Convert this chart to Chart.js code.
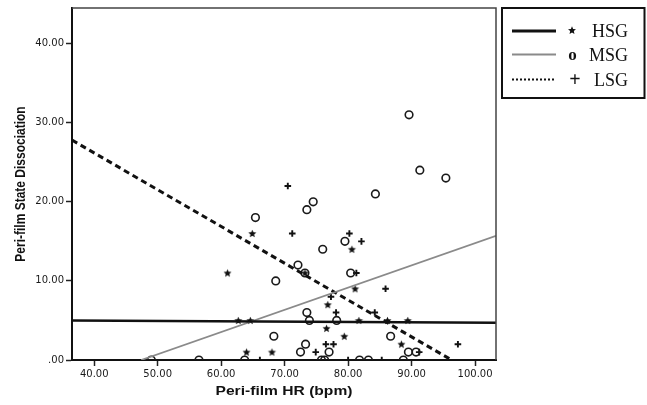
<!DOCTYPE html>
<html>
<head>
<meta charset="utf-8">
<script src="https://cdn.jsdelivr.net/npm/chart.js@4/dist/chart.umd.min.js"></script>
<style>
  html, body { margin: 0; padding: 0; background: #fff; }
  #wrap { width: 647px; height: 405px; position: relative; }
</style>
</head>
<body>
<div id="wrap"><canvas id="plot"></canvas></div>
<script>
// axis ranges and ticks
const xMin = 36.5, xMax = 103.3;
const yMin = 0, yMax = 44.5;
const xTicks = [40, 50, 60, 70, 80, 90, 100];
const yTicks = [0, 10, 20, 30, 40];

// HSG subjects: peri-film HR vs. state dissociation
const hsgX = [61.0, 64.9, 62.7, 64.6, 64.0, 68.0, 73.2, 76.8, 76.6, 79.4, 80.6, 81.1, 81.7, 86.2, 89.4, 88.4];
const hsgY = [11, 16, 5, 5, 1, 1, 11, 7, 4, 3, 14, 9, 5, 5, 5, 2];

// MSG subjects
const msgX = [49.0, 56.5, 63.7, 75.8, 76.3, 81.8, 83.2, 88.7, 65.4, 73.5, 74.5, 76.0, 79.5, 72.1, 73.2, 68.6,
              80.4, 73.5, 73.9, 78.2, 68.3, 73.3, 72.5, 77.0, 86.7, 89.5, 90.7, 89.6, 91.3, 95.4, 84.3];
const msgY = [0, 0, 0, 0, 0, 0, 0, 0, 18, 19, 20, 14, 15, 12, 11, 10,
              11, 6, 5, 5, 3, 2, 1, 1, 3, 1, 1, 31, 24, 23, 21];

// LSG subjects
const lsgX = [70.5, 71.2, 80.2, 82.1, 81.3, 85.9, 77.3, 78.1, 84.2, 76.5, 77.7, 97.3, 74.9, 91.2, 66.1, 80.0, 85.3];
const lsgY = [22, 16, 16, 15, 11, 9, 8, 6, 6, 2, 2, 2, 1, 1, 0, 0, 0];

// linear fit lines (end points)
const hsgFitX = [36.5, 103.3], hsgFitY = [5.0, 4.7];
const msgFitX = [47.4, 103.3], msgFitY = [0, 15.7];
const lsgFitX = [36.5, 96.3], lsgFitY = [27.8, 0];

const groupNames = ['HSG', 'MSG', 'LSG'];

function pts(xs, ys) {
    return xs.map((x, i) => ({ x: x, y: ys[i] }));
}

function drawStar(ctx, cx, cy, r) {
    ctx.beginPath();
    for (let i = 0; i < 10; i++) {
        const rr = i % 2 ? r * 0.45 : r;
        const a = -Math.PI / 2 + i * Math.PI / 5;
        ctx.lineTo(cx + rr * Math.cos(a), cy + rr * Math.sin(a));
    }
    ctx.closePath();
    ctx.fill();
}

// small filled five point star used as a point style
function starMark(r) {
    const s = Math.ceil(r * 2) + 2;
    const c = document.createElement('canvas');
    c.width = s; c.height = s;
    const g = c.getContext('2d');
    g.fillStyle = '#111';
    drawStar(g, s / 2, s / 2 + 0.4, r);
    return c;
}

// frame, axis titles and the boxed legend
const extras = {
    id: 'extras',
    afterDraw(chart) {
        const ctx = chart.ctx;
        const a = chart.chartArea;
        ctx.save();

        // top and right side of the plot frame
        ctx.strokeStyle = '#444';
        ctx.lineWidth = 1.5;
        ctx.beginPath();
        ctx.moveTo(a.left, a.top);
        ctx.lineTo(a.right, a.top);
        ctx.lineTo(a.right, a.bottom);
        ctx.stroke();

        // axis titles
        ctx.fillStyle = '#111';
        ctx.textAlign = 'center';
        ctx.textBaseline = 'alphabetic';
        ctx.save();
        ctx.translate(24.5, 184);
        ctx.scale(1.2, 1);
        ctx.rotate(-Math.PI / 2);
        ctx.font = 'bold 12px "Liberation Sans", Arial, sans-serif';
        ctx.fillText('Peri-film State Dissociation', 0, 0);
        ctx.restore();

        ctx.save();
        ctx.translate((a.left + a.right) / 2, 394.5);
        ctx.scale(1.2, 1);
        ctx.font = 'bold 13px "Liberation Sans", Arial, sans-serif';
        ctx.fillText('Peri-film HR (bpm)', 0, 0);
        ctx.restore();

        // legend box
        ctx.strokeStyle = '#111';
        ctx.lineWidth = 2;
        ctx.strokeRect(502, 8, 142.5, 90);

        const rows = [31, 54.5, 79.5];
        const sx0 = 512, sx1 = 556;

        ctx.lineWidth = 3;
        ctx.strokeStyle = '#111';
        ctx.beginPath(); ctx.moveTo(sx0, rows[0]); ctx.lineTo(sx1, rows[0]); ctx.stroke();

        ctx.lineWidth = 2;
        ctx.strokeStyle = '#8a8a8a';
        ctx.beginPath(); ctx.moveTo(sx0, rows[1]); ctx.lineTo(sx1, rows[1]); ctx.stroke();

        ctx.strokeStyle = '#111';
        ctx.setLineDash([2, 2]);
        ctx.beginPath(); ctx.moveTo(sx0, rows[2]); ctx.lineTo(sx1, rows[2]); ctx.stroke();
        ctx.setLineDash([]);

        ctx.fillStyle = '#111';
        drawStar(ctx, 572, rows[0] - 0.5, 4.2);
        ctx.font = 'bold 17px "Liberation Serif", serif';
        ctx.textAlign = 'center';
        ctx.fillText('o', 572.5, rows[1] + 5);
        ctx.font = 'bold 20px "Liberation Serif", serif';
        ctx.fillText('+', 575, rows[2] + 6);

        ctx.textAlign = 'right';
        ctx.font = '18px "Liberation Serif", serif';
        ctx.fillText(groupNames[0], 628, rows[0] + 6);
        ctx.fillText(groupNames[1], 628, rows[1] + 6);
        ctx.fillText(groupNames[2], 628, rows[2] + 6.5);

        ctx.restore();
    }
};

const tickFont = { family: '"DejaVu Sans", sans-serif', size: 10 };

const config = {
    type: 'scatter',
    data: {
        datasets: [
            {
                type: 'line',
                label: groupNames[0] + ' fit',
                data: pts(hsgFitX, hsgFitY),
                borderColor: '#111',
                borderWidth: 2.5,
                pointRadius: 0,
                clip: 0
            },
            {
                type: 'line',
                label: groupNames[1] + ' fit',
                data: pts(msgFitX, msgFitY),
                borderColor: '#8a8a8a',
                borderWidth: 1.8,
                pointRadius: 0,
                clip: 0
            },
            {
                type: 'line',
                label: groupNames[2] + ' fit',
                data: pts(lsgFitX, lsgFitY),
                borderColor: '#111',
                borderWidth: 3,
                borderDash: [6, 4],
                pointRadius: 0,
                clip: 0
            },
            {
                label: groupNames[1],
                data: pts(msgX, msgY),
                pointStyle: 'circle',
                pointRadius: 3.8,
                borderWidth: 1.6,
                borderColor: '#1a1a1a',
                backgroundColor: 'rgba(255,255,255,0)',
                clip: 0
            },
            {
                label: groupNames[0],
                data: pts(hsgX, hsgY),
                pointStyle: starMark(4.2),
                pointRadius: 4.2,
                clip: 0
            },
            {
                label: groupNames[2],
                data: pts(lsgX, lsgY),
                pointStyle: 'cross',
                pointRadius: 3.3,
                borderWidth: 1.9,
                borderColor: '#111',
                clip: 0
            }
        ]
    },
    options: {
        responsive: true,
        maintainAspectRatio: false,
        animation: false,
        layout: { padding: { top: 6, right: 151, left: 0, bottom: 0 } },
        plugins: {
            legend: { display: false },
            tooltip: { enabled: false }
        },
        scales: {
            x: {
                type: 'linear',
                min: xMin,
                max: xMax,
                afterBuildTicks: (scale) => { scale.ticks = xTicks.map(v => ({ value: v })); },
                afterFit: (scale) => { scale.height = 45; },
                ticks: {
                    font: tickFont,
                    color: '#1a1a1a',
                    padding: 2,
                    maxRotation: 0,
                    callback: (v) => Number(v).toFixed(2)
                },
                grid: { display: true, drawOnChartArea: false, drawTicks: true, tickLength: 6, tickColor: '#222', tickWidth: 1.5 },
                border: { display: true, color: '#111', width: 2 }
            },
            y: {
                type: 'linear',
                min: yMin,
                max: yMax,
                afterBuildTicks: (scale) => { scale.ticks = yTicks.map(v => ({ value: v })); },
                afterFit: (scale) => { scale.width = 72; },
                ticks: {
                    font: tickFont,
                    color: '#1a1a1a',
                    padding: 2,
                    callback: (v) => v === 0 ? '.00' : Number(v).toFixed(2)
                },
                grid: { display: true, drawOnChartArea: false, drawTicks: true, tickLength: 6, tickColor: '#222', tickWidth: 1.5 },
                border: { display: true, color: '#111', width: 2 }
            }
        }
    },
    plugins: [extras]
};

new Chart(document.getElementById('plot').getContext('2d'), config);
</script>
</body>
</html>
